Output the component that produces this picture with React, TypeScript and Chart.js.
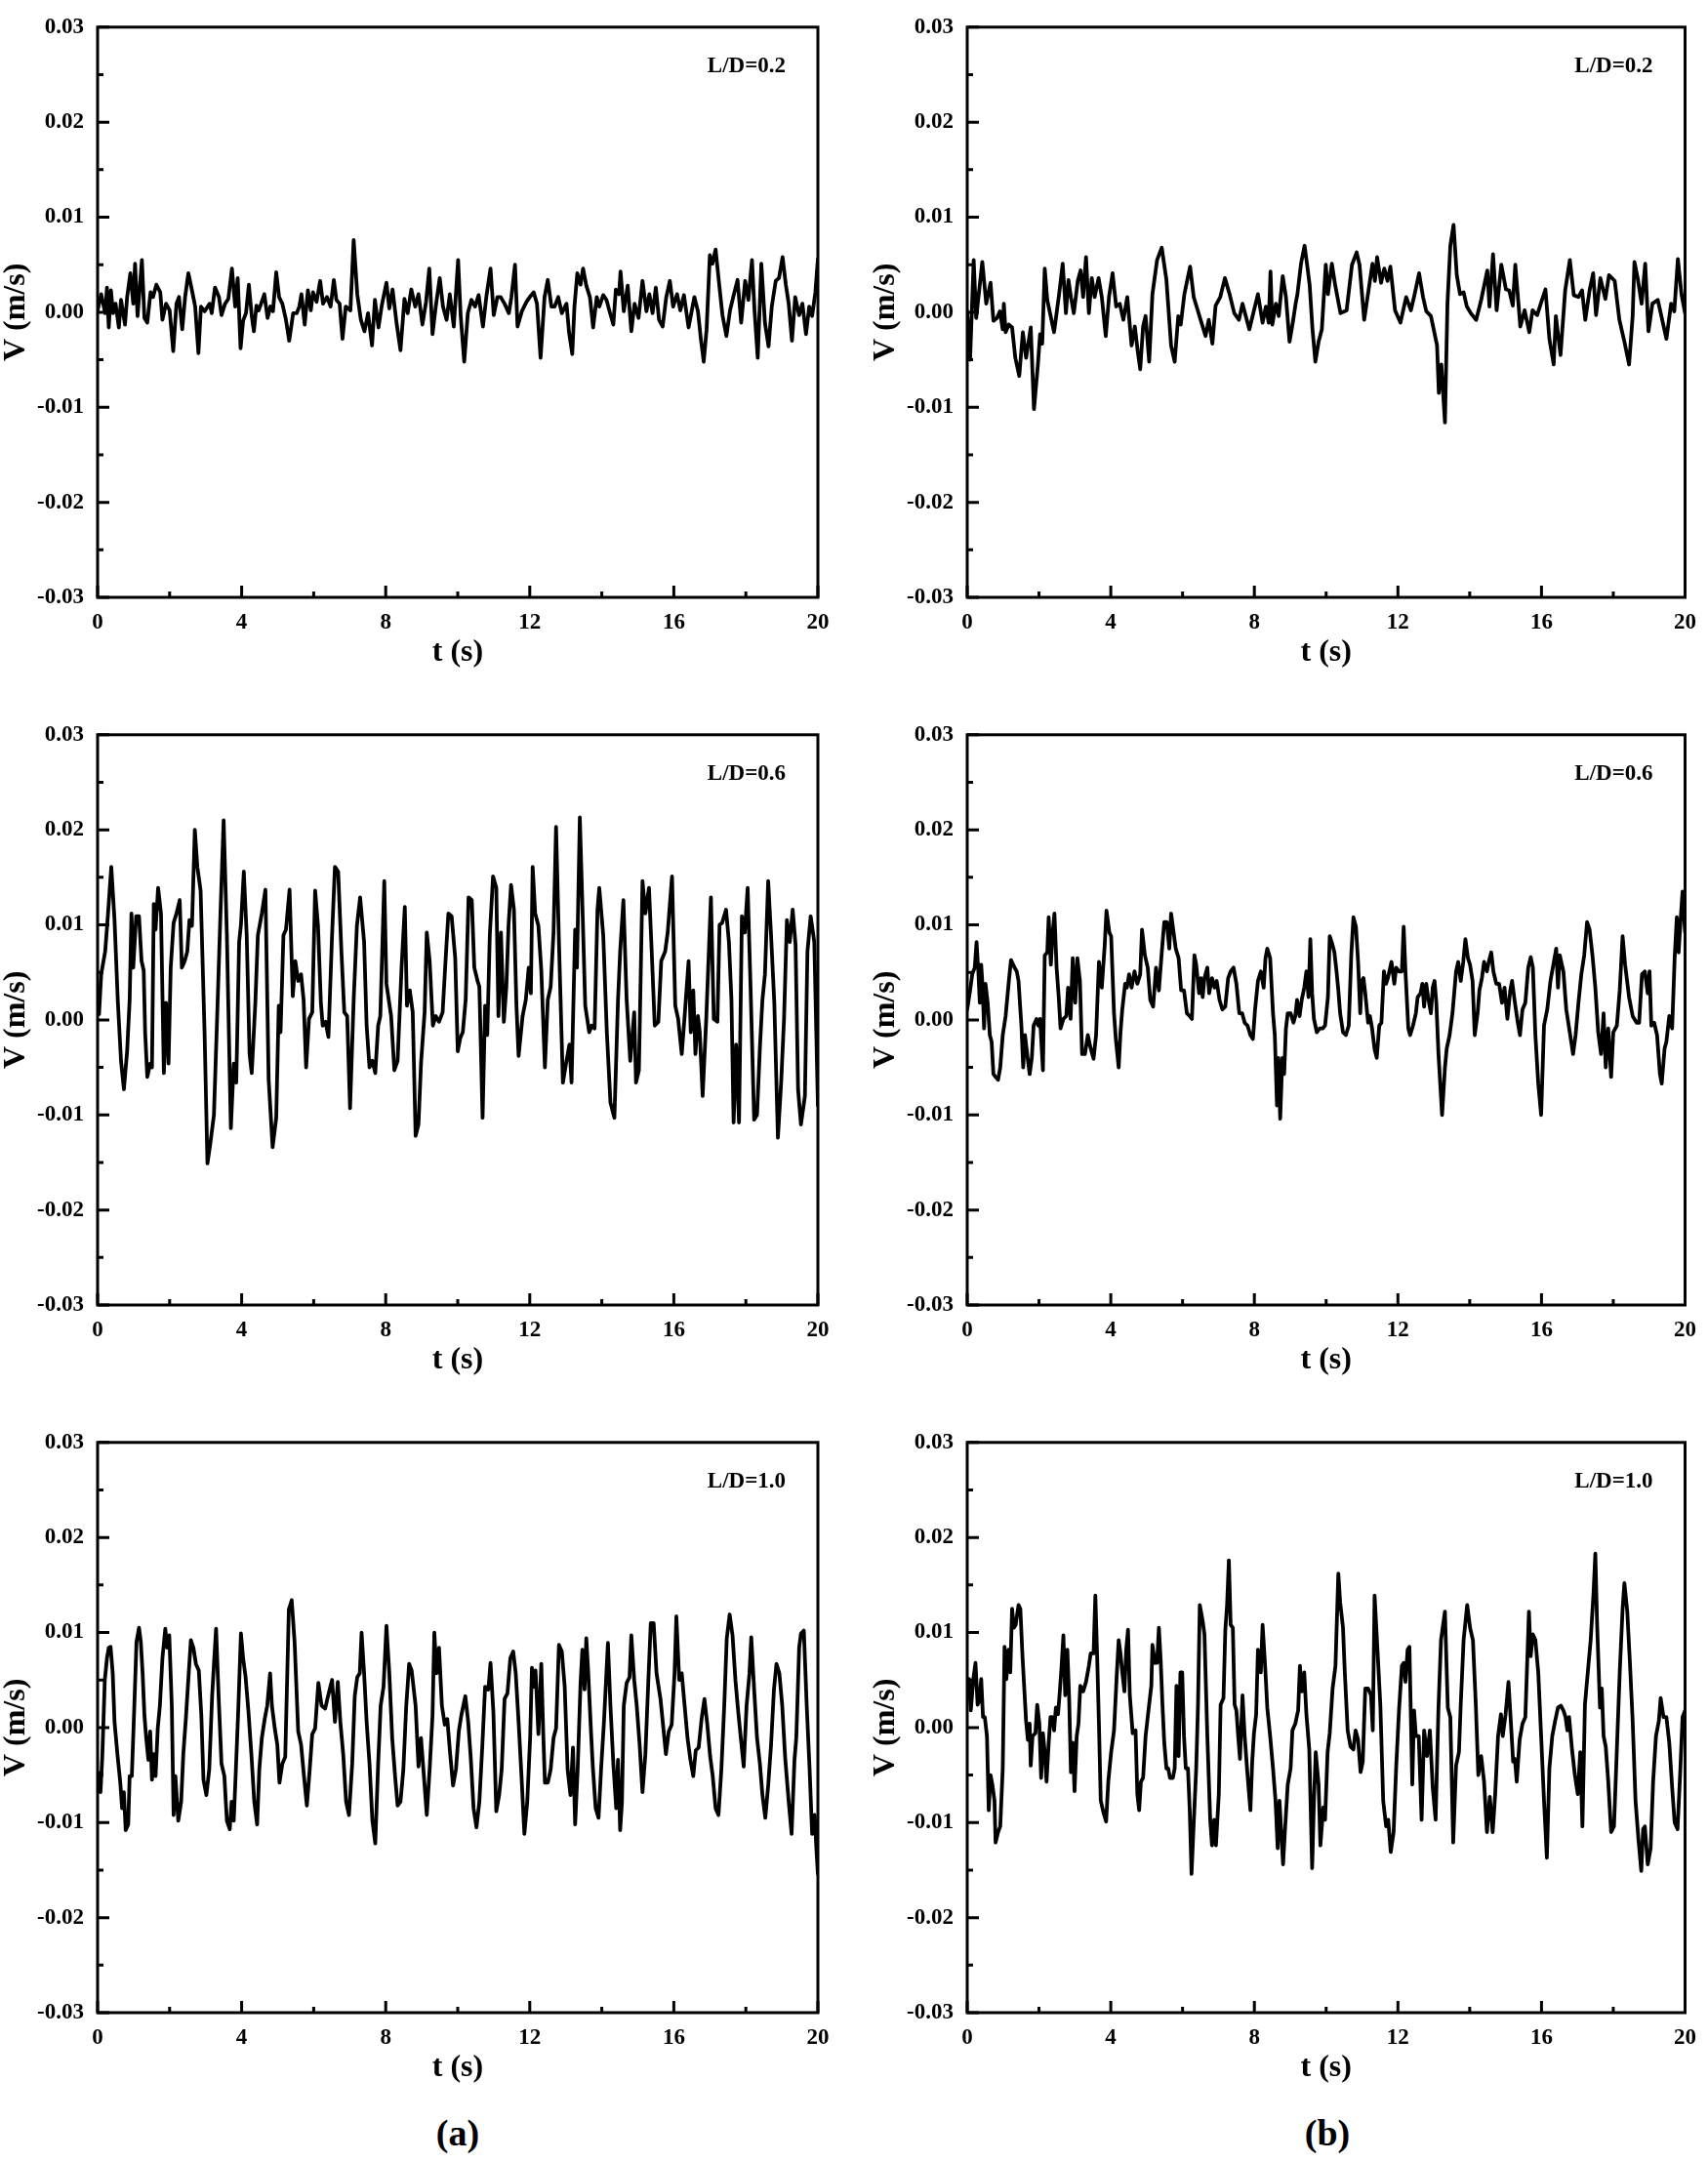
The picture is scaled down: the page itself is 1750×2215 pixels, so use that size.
import React, { useEffect, useRef } from "react";
import { Chart, registerables } from "chart.js";

Chart.register(...registerables);

const FONT = '"Liberation Serif", "Times New Roman", serif';

// axis ticks
const xMajor = [0, 4, 8, 12, 16, 20];
const xMinor = [2, 6, 10, 14, 18];
const yMajor = [-0.03, -0.02, -0.01, 0, 0.01, 0.02, 0.03];
const yMinor = [-0.025, -0.015, -0.005, 0.005, 0.015, 0.025];
const rowLabels = ["L/D=0.2", "L/D=0.6", "L/D=1.0"];
const columnLabels = ["(a)", "(b)"];
const xTitle = "t (s)";
const yTitle = "V (m/s)";

// ---- data: time t (s) and velocity V (mm/s, plotted as m/s) ----
// (a) L/D=0.2
const tA1 = [0.00,0.10,0.21,0.26,0.31,0.37,0.43,0.50,0.59,0.65,0.76,0.82,0.91,0.99,1.04,1.11,1.23,1.30,1.38,1.47,1.54,1.63,1.74,1.80,1.90,2.00,2.10,2.19,2.26,2.35,2.43,2.52,2.62,2.71,2.80,2.87,2.97,3.11,3.17,3.26,3.37,3.44,3.54,3.63,3.73,3.82,3.89,3.97,4.04,4.12,4.20,4.28,4.34,4.41,4.47,4.54,4.63,4.72,4.80,4.87,4.96,5.04,5.13,5.23,5.32,5.43,5.53,5.60,5.66,5.75,5.84,5.92,5.98,6.08,6.18,6.26,6.37,6.47,6.56,6.63,6.72,6.80,6.89,7.02,7.11,7.21,7.31,7.41,7.51,7.62,7.70,7.80,7.89,8.02,8.10,8.19,8.30,8.41,8.52,8.61,8.71,8.82,8.91,9.02,9.12,9.21,9.30,9.39,9.50,9.59,9.69,9.78,9.89,10.01,10.08,10.18,10.28,10.38,10.48,10.58,10.70,10.80,10.91,11.00,11.10,11.19,11.30,11.42,11.49,11.59,11.66,11.78,11.91,12.00,12.11,12.20,12.30,12.41,12.50,12.60,12.69,12.79,12.89,13.02,13.09,13.18,13.24,13.32,13.41,13.48,13.57,13.67,13.76,13.86,13.93,14.04,14.13,14.23,14.32,14.39,14.48,14.52,14.61,14.72,14.82,14.91,15.02,15.13,15.24,15.32,15.41,15.50,15.59,15.69,15.79,15.89,15.98,16.09,16.18,16.28,16.41,16.57,16.67,16.75,16.83,16.91,17.00,17.07,17.16,17.26,17.35,17.46,17.56,17.65,17.77,17.87,17.98,18.07,18.17,18.24,18.33,18.43,18.53,18.63,18.72,18.83,18.92,19.02,19.11,19.19,19.28,19.37,19.48,19.57,19.67,19.76,19.84,19.93,20.00];
const vA1 = [0.2,1.9,-0.1,2.6,-1.6,2.3,-0.1,0.9,-1.6,1.3,-1.3,1.6,4.1,0.9,5.1,-0.4,5.5,-0.6,-1.1,2.1,1.6,2.9,2.1,-0.8,0.9,0.2,-4.1,0.9,1.6,-1.8,1.6,4.1,2.3,0.6,-4.3,0.6,0.1,0.9,-0.1,2.6,1.6,-0.3,0.9,1.4,4.6,0.6,3.6,-3.8,-0.9,-0.1,2.9,-0.4,-2.0,0.7,0.2,0.9,1.9,-0.6,0.6,0.1,4.2,1.6,0.9,-0.8,-3.0,-0.1,-0.1,0.6,1.9,-1.3,2.3,0.2,2.1,1.1,3.3,0.9,1.6,0.6,3.4,1.3,0.9,-2.8,0.6,0.2,7.6,1.9,-0.8,-2.0,-0.1,-3.5,1.3,-1.6,0.7,3.1,0.4,2.4,-1.1,-4.0,1.4,-0.1,2.4,0.6,1.9,-1.3,1.1,4.6,-2.3,0.6,3.6,0.6,-0.8,1.9,-1.5,5.5,-0.3,-5.2,-0.1,1.3,0.6,1.8,-1.5,1.8,4.6,-0.3,1.6,1.6,0.9,-0.1,1.6,5.0,-1.5,0.1,1.1,1.6,2.1,0.9,-4.8,1.6,3.4,0.6,0.6,1.6,-0.1,0.9,-2.1,-4.4,0.6,4.1,2.9,4.6,2.8,1.6,-1.6,1.6,0.6,1.8,1.3,-0.1,-1.3,2.4,1.9,4.3,0.1,2.8,-2.0,0.9,-0.6,3.3,0.1,1.9,-0.1,2.6,-0.8,-1.5,1.6,3.3,0.6,1.9,0.2,1.8,-1.6,1.6,0.1,-2.8,-5.2,-1.8,6.0,5.1,6.6,2.9,-0.3,-2.5,0.2,1.6,3.4,-1.1,3.3,1.3,5.5,0.2,-4.8,5.1,-1.1,-3.6,0.6,3.3,3.6,5.8,2.9,0.9,-3.0,1.6,-0.3,0.9,-2.3,0.6,-0.4,2.1,5.6];

// (b) L/D=0.2
const tB1 = [0.00,0.08,0.18,0.25,0.42,0.53,0.65,0.73,0.83,0.91,0.99,1.02,1.07,1.16,1.25,1.34,1.45,1.55,1.64,1.77,1.86,1.97,2.03,2.09,2.16,2.23,2.29,2.42,2.50,2.56,2.66,2.75,2.82,2.89,2.97,3.08,3.16,3.23,3.31,3.39,3.47,3.55,3.66,3.75,3.86,3.95,4.05,4.15,4.25,4.35,4.46,4.58,4.67,4.75,4.82,4.90,4.97,5.07,5.16,5.29,5.42,5.55,5.68,5.78,5.88,5.95,6.05,6.21,6.31,6.47,6.64,6.73,6.83,6.92,7.05,7.18,7.31,7.44,7.57,7.67,7.86,8.10,8.23,8.32,8.40,8.45,8.50,8.60,8.68,8.79,8.88,8.98,9.07,9.15,9.20,9.30,9.40,9.47,9.54,9.62,9.70,9.79,9.88,9.99,10.05,10.16,10.25,10.40,10.57,10.72,10.85,10.93,11.06,11.29,11.36,11.42,11.53,11.62,11.71,11.79,11.92,12.07,12.23,12.36,12.46,12.59,12.70,12.79,12.92,13.09,13.14,13.21,13.31,13.38,13.46,13.55,13.64,13.73,13.83,13.92,14.03,14.18,14.32,14.49,14.55,14.65,14.75,14.88,15.01,15.10,15.20,15.27,15.41,15.53,15.66,15.75,15.88,15.98,16.11,16.22,16.34,16.40,16.53,16.66,16.79,16.90,17.03,17.13,17.22,17.34,17.44,17.52,17.64,17.78,17.88,18.04,18.17,18.31,18.44,18.54,18.59,18.68,18.79,18.89,18.98,19.09,19.24,19.48,19.61,19.70,19.80,19.90,20.00];
const vB1 = [0.1,-5.0,5.5,-0.6,5.3,0.9,3.1,-0.9,-0.6,0.1,-1.8,0.9,-2.1,-1.3,-1.6,-4.8,-6.7,-2.1,-4.8,-1.6,-10.2,-5.5,-2.3,-3.3,4.6,1.3,0.2,-2.1,0.2,1.9,5.1,-0.1,3.4,1.6,-0.1,3.3,4.4,1.6,5.8,-0.1,3.6,1.6,3.6,1.6,-2.5,1.6,4.1,0.6,0.9,-0.8,1.6,-3.5,-1.5,-4.1,-6.0,-1.5,-0.4,-5.2,1.9,5.5,6.8,3.4,-3.5,-5.2,-0.4,-1.3,1.9,4.8,1.6,-0.4,-2.5,-0.8,-3.3,0.7,1.6,3.6,1.9,-0.1,-0.8,0.9,-1.8,1.9,-1.1,0.6,-1.1,4.3,-1.3,0.9,-0.4,3.8,1.6,-3.1,-1.1,0.9,1.9,5.1,7.0,5.0,2.9,-1.8,-5.2,-3.1,-1.8,5.0,1.9,5.1,2.9,-0.1,0.2,5.0,6.3,5.0,-0.8,5.1,3.3,5.8,3.1,4.6,3.3,4.8,0.2,-1.1,1.6,0.2,1.8,4.1,1.6,0.1,-0.4,-3.5,-8.5,-5.5,-11.6,0.9,7.0,9.2,3.9,1.9,2.1,0.6,-0.1,-0.8,1.3,4.4,0.6,6.1,0.2,5.0,2.4,2.3,0.7,5.0,-1.5,0.2,-2.1,0.2,-0.3,0.9,2.4,-2.8,-5.5,-0.4,-4.5,2.3,5.5,1.8,1.6,2.3,-0.8,2.3,4.1,-0.3,3.6,1.4,3.9,3.3,-0.8,-3.1,-5.5,-0.4,5.3,3.6,0.9,5.1,-2.0,0.9,1.3,-2.8,0.9,0.1,5.6,1.9,-0.1];

// (a) L/D=0.6
const tA2 = [0.04,0.10,0.21,0.29,0.38,0.47,0.56,0.65,0.73,0.82,0.89,0.94,0.99,1.07,1.15,1.22,1.28,1.32,1.38,1.46,1.51,1.56,1.61,1.68,1.76,1.84,1.90,1.97,2.03,2.11,2.19,2.28,2.34,2.42,2.49,2.55,2.62,2.70,2.77,2.86,2.97,3.05,3.13,3.23,3.33,3.42,3.50,3.59,3.70,3.78,3.85,3.93,3.98,4.06,4.14,4.22,4.28,4.38,4.45,4.56,4.66,4.75,4.86,4.96,5.03,5.08,5.16,5.23,5.33,5.42,5.49,5.57,5.65,5.72,5.79,5.87,5.96,6.04,6.12,6.20,6.25,6.33,6.41,6.51,6.59,6.68,6.77,6.85,6.93,7.01,7.11,7.20,7.29,7.40,7.47,7.55,7.63,7.71,7.79,7.85,7.96,8.02,8.15,8.24,8.33,8.44,8.53,8.59,8.67,8.75,8.83,8.91,8.98,9.08,9.14,9.22,9.31,9.39,9.48,9.58,9.67,9.74,9.83,9.93,10.00,10.07,10.14,10.22,10.30,10.39,10.46,10.55,10.60,10.69,10.76,10.82,10.89,10.98,11.07,11.13,11.20,11.28,11.35,11.41,11.48,11.56,11.63,11.69,11.80,11.89,11.97,12.03,12.08,12.15,12.24,12.32,12.42,12.50,12.58,12.66,12.73,12.81,12.92,13.02,13.10,13.16,13.26,13.31,13.39,13.46,13.54,13.65,13.72,13.80,13.88,13.93,14.04,14.14,14.24,14.35,14.45,14.51,14.60,14.69,14.79,14.90,14.95,15.03,15.13,15.21,15.31,15.39,15.47,15.57,15.65,15.76,15.83,15.95,16.04,16.12,16.22,16.30,16.41,16.47,16.54,16.60,16.67,16.72,16.80,16.90,17.03,17.11,17.21,17.27,17.34,17.45,17.53,17.60,17.66,17.73,17.81,17.89,17.97,18.05,18.13,18.23,18.31,18.39,18.46,18.53,18.62,18.70,18.79,18.89,18.98,19.06,19.14,19.22,19.30,19.38,19.45,19.53,19.64,19.71,19.80,19.90,20.00];
const vA2 = [0.6,4.8,7.2,11.2,16.1,10.5,2.1,-4.3,-7.3,-3.3,2.1,11.2,5.5,10.9,10.9,6.2,5.2,-1.3,-6.0,-4.6,-5.0,12.2,9.5,13.9,11.2,-5.6,1.8,-4.6,5.5,10.2,11.2,12.6,5.5,6.2,7.2,10.5,9.9,20.0,16.1,13.6,-1.3,-15.1,-13.0,-10.0,1.5,12.2,21.0,8.9,-11.4,-4.6,-6.6,8.2,10.0,15.6,8.9,-3.6,-5.6,1.8,8.9,11.2,13.7,-6.3,-13.4,-10.3,1.5,-1.3,8.9,9.5,13.7,2.5,6.2,4.1,4.8,2.1,-5.0,0.1,0.8,13.6,9.9,1.8,-0.6,-0.2,-1.8,8.9,16.1,15.6,7.2,0.8,0.4,-9.3,2.1,9.9,12.9,8.2,-0.6,-5.0,-4.3,-5.6,-0.6,0.4,14.6,3.8,0.4,-5.3,-4.3,5.5,11.9,1.5,3.1,0.8,-12.2,-11.0,-4.6,0.8,9.2,6.2,-0.6,0.4,-0.2,0.8,6.8,11.2,10.9,6.5,-3.3,-1.9,-1.3,2.1,12.9,12.6,5.5,4.1,3.5,-10.3,1.5,-1.6,8.9,15.1,13.9,0.4,9.2,-0.2,3.5,9.9,14.2,11.6,1.5,-3.8,0.4,2.1,5.5,2.8,16.1,11.2,9.9,5.2,-5.0,2.1,3.5,9.2,20.3,8.2,-6.6,-4.3,-2.6,-6.6,9.5,5.5,21.3,12.2,1.5,-1.3,-0.6,-0.9,11.6,13.9,8.9,-1.3,-8.7,-10.3,2.1,7.2,12.6,2.1,-4.3,0.8,-6.6,-5.3,14.6,11.2,13.9,6.8,-0.6,-0.2,6.2,7.2,9.2,15.1,1.5,0.1,-3.6,0.4,6.2,-1.3,3.1,-3.6,0.4,-1.3,-8.0,0.1,12.9,0.1,-0.2,10.0,10.2,11.6,8.2,2.1,-10.8,-2.6,-10.8,10.9,9.2,13.9,3.5,-10.5,-10.0,-2.9,2.1,4.8,14.6,8.9,1.8,-12.4,-6.6,0.1,10.5,8.2,11.6,7.9,-7.3,-11.0,-8.0,7.2,10.9,8.2,-9.0];

// (b) L/D=0.6
const tB2 = [0.00,0.08,0.14,0.21,0.26,0.31,0.35,0.39,0.43,0.47,0.51,0.57,0.63,0.68,0.73,0.79,0.86,0.92,0.99,1.07,1.16,1.22,1.32,1.38,1.43,1.48,1.51,1.56,1.61,1.67,1.74,1.80,1.85,1.93,1.98,2.03,2.11,2.16,2.23,2.27,2.33,2.38,2.43,2.49,2.55,2.60,2.68,2.76,2.81,2.88,2.94,3.01,3.07,3.14,3.20,3.28,3.36,3.44,3.52,3.59,3.67,3.75,3.83,3.88,3.96,4.01,4.09,4.14,4.22,4.27,4.32,4.40,4.45,4.51,4.58,4.66,4.74,4.82,4.87,4.95,5.03,5.10,5.18,5.26,5.34,5.42,5.49,5.56,5.63,5.68,5.74,5.81,5.89,5.96,6.04,6.12,6.20,6.26,6.33,6.38,6.46,6.51,6.56,6.61,6.69,6.74,6.82,6.89,6.95,7.03,7.11,7.19,7.27,7.34,7.42,7.50,7.58,7.66,7.73,7.81,7.89,7.96,8.02,8.10,8.18,8.26,8.31,8.36,8.44,8.52,8.57,8.63,8.67,8.72,8.78,8.83,8.88,8.93,9.01,9.09,9.14,9.19,9.26,9.32,9.39,9.45,9.51,9.56,9.61,9.66,9.74,9.82,9.90,9.97,10.05,10.10,10.17,10.23,10.29,10.34,10.39,10.47,10.55,10.63,10.70,10.76,10.83,10.89,10.95,10.99,11.04,11.09,11.17,11.22,11.28,11.35,11.41,11.48,11.54,11.61,11.67,11.72,11.82,11.90,11.95,12.03,12.11,12.16,12.21,12.29,12.34,12.42,12.50,12.55,12.63,12.68,12.73,12.79,12.84,12.92,12.97,13.02,13.07,13.13,13.23,13.31,13.36,13.44,13.52,13.62,13.68,13.75,13.82,13.88,13.95,14.01,14.08,14.14,14.22,14.27,14.34,14.40,14.48,14.53,14.60,14.66,14.74,14.82,14.90,14.97,15.05,15.13,15.18,15.26,15.34,15.40,15.47,15.55,15.63,15.70,15.76,15.83,15.91,15.99,16.07,16.16,16.25,16.33,16.41,16.46,16.51,16.61,16.69,16.80,16.88,16.95,17.03,17.11,17.19,17.27,17.34,17.42,17.50,17.58,17.66,17.73,17.79,17.86,17.94,18.00,18.10,18.18,18.26,18.33,18.44,18.54,18.65,18.72,18.80,18.88,18.96,19.01,19.06,19.14,19.22,19.30,19.35,19.43,19.48,19.56,19.64,19.71,19.77,19.82,19.87,19.93,20.00];
const vB2 = [1.1,3.1,4.8,5.5,8.2,5.1,1.8,5.8,3.4,-0.9,3.8,1.8,-1.6,-2.3,-5.7,-6.0,-6.3,-5.0,-1.6,0.4,4.1,6.3,5.5,5.1,4.1,1.1,-0.6,-5.0,-1.6,-3.6,-5.7,-4.0,-0.6,0.1,-0.6,0.1,-5.3,6.8,7.1,10.8,5.8,9.2,11.2,5.5,2.4,-0.9,0.1,0.4,3.4,0.1,6.5,1.8,6.5,4.1,-3.6,-3.6,-1.6,-3.0,-4.1,-1.6,6.1,3.4,7.8,11.5,9.2,8.8,0.7,-2.0,-5.0,-1.3,1.1,3.8,3.4,4.8,3.4,5.1,3.8,4.8,9.5,6.8,5.5,2.1,1.4,5.5,3.1,7.1,10.3,10.3,7.5,11.2,9.5,7.5,6.5,3.1,3.1,0.7,0.4,0.1,6.8,5.8,2.8,4.4,2.4,4.4,5.5,2.8,4.4,3.4,4.1,2.1,1.1,1.4,4.4,5.1,5.5,3.8,0.7,0.7,-0.3,-0.6,-1.6,-2.0,1.1,4.1,5.1,3.4,6.5,7.5,6.5,0.7,-1.6,-9.0,-4.0,-10.4,-4.0,-5.7,-0.9,0.7,0.7,-0.3,0.4,2.1,0.4,2.1,3.4,5.1,2.4,8.5,2.8,0.1,-1.3,-0.9,-0.9,-0.6,2.4,8.8,8.0,7.1,5.1,3.1,0.7,-1.3,-1.6,-0.6,6.8,10.8,9.8,6.1,0.7,4.1,4.4,2.8,-0.3,0.4,-0.9,-3.1,-4.0,-0.6,-0.3,5.1,3.8,4.4,6.1,3.8,5.5,5.1,5.1,9.8,5.1,-0.9,-1.6,-0.6,0.7,2.4,2.8,3.8,1.4,3.8,2.4,0.7,3.4,4.1,1.8,-3.6,-10.0,-5.0,-3.0,-1.6,0.7,5.1,6.1,4.1,6.1,8.5,6.5,5.8,4.1,-1.6,0.7,3.1,4.4,6.1,5.1,6.1,7.1,5.1,3.8,3.8,1.8,3.4,0.1,3.1,4.1,1.8,-0.3,-1.6,1.1,1.8,5.5,6.6,5.5,-1.6,-6.7,-10.0,-0.6,1.1,4.1,5.8,7.5,3.4,6.8,5.1,1.1,-1.6,-3.6,-1.6,1.8,4.8,6.8,10.3,9.5,6.8,3.4,-1.3,-3.6,0.7,-5.0,-0.9,-6.0,-1.3,-0.6,3.1,8.8,5.8,2.4,0.4,-0.3,-0.3,4.8,5.1,2.8,5.1,-0.6,-0.3,-1.6,-5.7,-6.7,-3.0,-2.3,0.4,-0.9,6.5,10.8,7.1,10.2,13.5,9.2];

// (a) L/D=1.0
const tA3 = [0.04,0.08,0.13,0.20,0.26,0.31,0.36,0.42,0.47,0.55,0.63,0.68,0.73,0.78,0.85,0.89,0.95,1.02,1.08,1.15,1.20,1.25,1.30,1.35,1.41,1.46,1.51,1.56,1.61,1.67,1.73,1.80,1.88,1.93,1.99,2.06,2.11,2.16,2.24,2.32,2.38,2.45,2.53,2.59,2.66,2.73,2.81,2.88,2.94,3.02,3.10,3.18,3.24,3.29,3.36,3.44,3.52,3.59,3.67,3.72,3.78,3.84,3.91,3.98,4.04,4.11,4.19,4.27,4.35,4.43,4.49,4.56,4.64,4.71,4.79,4.84,4.92,4.99,5.05,5.13,5.21,5.31,5.39,5.47,5.57,5.65,5.73,5.81,5.89,5.96,6.04,6.13,6.22,6.32,6.38,6.45,6.51,6.59,6.67,6.74,6.82,6.90,6.98,7.07,7.14,7.21,7.28,7.33,7.40,7.47,7.55,7.63,7.71,7.79,7.86,7.94,8.02,8.10,8.18,8.26,8.33,8.41,8.49,8.57,8.65,8.72,8.83,8.91,8.98,9.06,9.14,9.22,9.30,9.35,9.41,9.48,9.56,9.64,9.71,9.79,9.87,9.95,10.03,10.10,10.21,10.29,10.36,10.44,10.52,10.60,10.68,10.76,10.85,10.91,10.99,11.07,11.15,11.22,11.30,11.38,11.46,11.54,11.61,11.69,11.77,11.85,11.93,12.01,12.06,12.11,12.16,12.24,12.32,12.37,12.42,12.50,12.58,12.66,12.73,12.81,12.89,12.97,13.05,13.13,13.20,13.26,13.33,13.41,13.46,13.52,13.57,13.62,13.70,13.75,13.83,13.91,13.98,14.06,14.17,14.24,14.32,14.40,14.45,14.51,14.56,14.61,14.69,14.77,14.82,14.90,14.97,15.05,15.13,15.21,15.29,15.36,15.44,15.52,15.63,15.70,15.78,15.86,15.94,16.02,16.07,16.15,16.22,16.30,16.38,16.46,16.54,16.61,16.69,16.77,16.85,16.93,17.01,17.08,17.16,17.24,17.32,17.40,17.47,17.55,17.63,17.71,17.79,17.86,17.94,18.02,18.10,18.15,18.23,18.31,18.39,18.46,18.54,18.62,18.70,18.78,18.85,18.93,19.01,19.09,19.19,19.27,19.35,19.40,19.48,19.53,19.61,19.69,19.77,19.84,19.91,19.96,20.00];
const vA3 = [-4.8,-6.8,-3.1,5.0,7.3,8.4,8.5,5.7,0.6,-2.8,-5.8,-8.5,-6.8,-10.8,-10.2,-5.1,-5.1,2.3,9.0,10.5,9.0,5.7,1.3,-1.1,-3.4,-0.4,-5.5,-2.8,-5.1,-0.1,2.3,7.3,10.4,8.4,9.7,2.3,-9.2,-5.1,-9.8,-7.8,-2.8,0.9,5.7,9.2,8.4,6.7,6.0,1.3,-5.5,-7.1,-4.4,3.3,7.3,10.4,3.3,-3.8,-5.1,-9.8,-10.7,-7.8,-9.8,-4.4,2.3,9.9,7.3,5.3,1.6,-2.8,-7.8,-10.2,-4.4,-1.1,0.9,2.3,5.7,2.3,-0.1,-1.8,-5.8,-3.8,-3.1,12.4,13.4,9.0,-0.4,-1.8,-5.1,-8.2,-4.4,-0.7,-0.1,4.7,2.3,2.0,3.0,4.1,5.0,0.6,4.8,0.6,-2.8,-7.8,-9.2,-3.8,3.3,5.3,5.7,10.0,5.7,0.6,-3.8,-9.8,-12.2,-3.8,2.3,4.3,10.7,5.7,-1.1,-5.1,-8.2,-7.8,-4.4,2.3,6.7,6.0,2.3,-4.1,-1.1,-5.1,-9.2,-4.4,1.3,10.0,5.7,8.4,2.3,0.3,0.9,-2.8,-6.1,-4.4,-0.4,1.3,3.3,0.6,-3.1,-8.5,-10.5,-7.8,-2.1,4.3,4.0,6.8,1.6,-8.8,-7.1,-4.4,3.0,3.6,7.3,8.0,5.7,0.6,-5.1,-11.2,-7.8,-1.1,6.3,4.3,6.0,-0.7,6.7,-0.1,-5.8,-5.8,-4.4,-1.1,-0.1,8.7,8.0,4.3,-4.4,-7.1,-2.1,-10.2,-4.4,4.7,8.2,4.0,9.4,6.0,-0.4,-4.1,-8.5,-9.5,-4.4,0.6,8.9,2.3,-3.8,-8.5,-3.4,-10.8,-7.8,2.3,4.7,5.3,9.7,5.0,2.3,-1.8,-6.8,-2.8,4.7,11.0,11.0,5.7,3.0,0.3,-2.8,-0.4,0.3,5.7,11.7,5.0,5.7,2.3,-1.1,-3.4,-5.1,-2.4,-2.1,0.9,3.0,0.3,-3.1,-5.1,-8.5,-9.2,-4.4,2.3,9.4,11.9,9.7,5.0,1.6,-1.1,-4.1,2.3,5.7,9.5,4.0,-1.1,-3.8,-7.1,-9.5,-6.1,-1.8,4.0,6.7,5.7,2.3,-3.1,-7.8,-11.2,-3.4,-1.1,8.4,9.9,10.2,2.3,-4.4,-11.2,-9.2,-12.9,-15.4];

// (b) L/D=1.0
const tB3 = [0.00,0.05,0.10,0.17,0.23,0.29,0.34,0.39,0.44,0.49,0.55,0.60,0.65,0.70,0.76,0.79,0.86,0.92,0.99,1.04,1.09,1.15,1.20,1.25,1.30,1.35,1.43,1.48,1.54,1.59,1.64,1.69,1.74,1.77,1.82,1.90,1.95,2.01,2.06,2.11,2.16,2.21,2.27,2.32,2.37,2.42,2.47,2.53,2.58,2.63,2.68,2.73,2.79,2.84,2.89,2.94,2.99,3.05,3.10,3.15,3.23,3.31,3.39,3.44,3.52,3.57,3.62,3.67,3.72,3.80,3.87,3.93,4.01,4.09,4.17,4.22,4.27,4.32,4.38,4.43,4.48,4.53,4.61,4.69,4.74,4.79,4.84,4.90,4.97,5.05,5.13,5.16,5.23,5.29,5.34,5.39,5.44,5.49,5.55,5.60,5.65,5.73,5.78,5.83,5.89,5.94,5.99,6.04,6.09,6.15,6.20,6.25,6.30,6.38,6.43,6.48,6.56,6.61,6.69,6.77,6.82,6.88,6.93,7.01,7.06,7.14,7.19,7.24,7.29,7.34,7.40,7.45,7.50,7.55,7.60,7.67,7.73,7.81,7.89,7.94,7.99,8.05,8.10,8.18,8.23,8.31,8.36,8.44,8.52,8.59,8.65,8.70,8.75,8.80,8.85,8.93,9.01,9.06,9.14,9.22,9.27,9.32,9.39,9.45,9.53,9.61,9.66,9.71,9.79,9.84,9.92,9.97,10.04,10.10,10.18,10.26,10.34,10.39,10.47,10.52,10.60,10.68,10.76,10.82,10.89,10.96,11.02,11.09,11.17,11.25,11.30,11.35,11.43,11.51,11.59,11.67,11.73,11.80,11.88,11.95,12.03,12.11,12.16,12.21,12.27,12.32,12.40,12.45,12.50,12.58,12.66,12.73,12.81,12.89,12.97,13.05,13.13,13.20,13.31,13.39,13.46,13.54,13.62,13.70,13.75,13.83,13.93,14.01,14.09,14.17,14.24,14.32,14.40,14.48,14.56,14.64,14.71,14.79,14.87,14.92,15.00,15.08,15.16,15.21,15.26,15.31,15.39,15.47,15.55,15.65,15.70,15.76,15.83,15.91,15.99,16.07,16.15,16.22,16.30,16.38,16.46,16.54,16.61,16.67,16.72,16.77,16.85,16.93,17.01,17.08,17.14,17.21,17.29,17.37,17.45,17.50,17.55,17.63,17.68,17.73,17.79,17.86,17.94,18.02,18.10,18.18,18.26,18.31,18.39,18.46,18.54,18.62,18.70,18.78,18.83,18.88,18.96,19.04,19.11,19.19,19.27,19.32,19.40,19.48,19.56,19.64,19.71,19.79,19.87,19.93,20.00];
const vB3 = [3.1,5.1,1.8,5.1,6.8,2.4,2.8,5.1,1.1,1.1,-0.9,-8.7,-5.0,-6.0,-7.7,-12.1,-11.0,-10.4,-4.3,8.5,5.1,8.2,5.8,12.5,10.5,10.8,12.9,12.5,7.5,4.1,0.7,-1.3,0.4,-4.0,-0.9,-0.6,2.4,0.4,-5.3,-0.6,-2.6,-5.7,-1.6,1.1,1.1,-0.3,2.1,1.4,3.8,6.5,9.7,3.4,8.2,3.1,-4.7,-1.6,-6.7,-0.9,0.4,4.4,3.8,4.8,6.5,7.8,7.8,13.9,7.5,0.4,-7.7,-9.0,-9.9,-5.7,-2.6,-0.3,5.8,9.2,7.8,5.8,3.8,8.2,10.3,3.4,-0.6,-0.3,-7.0,-8.7,-5.7,-5.3,-0.9,1.8,4.4,8.7,6.8,6.8,10.5,7.1,2.4,-1.6,-4.3,-4.3,-5.3,-5.3,-4.3,4.4,-3.0,5.8,5.8,-0.9,-4.3,-4.3,-8.7,-15.4,-11.0,-4.3,2.4,12.9,11.2,9.8,-0.9,-9.7,-12.4,-9.7,-12.4,-7.0,2.4,3.1,10.2,12.9,17.6,10.8,10.5,2.4,1.8,-0.9,-3.3,3.4,-0.9,-5.0,-8.7,-3.6,-0.6,1.4,8.2,5.8,10.8,5.8,2.1,-0.9,-4.3,-7.7,-12.7,-7.7,-11.0,-14.4,-11.0,-6.0,-4.3,-0.3,0.4,1.8,6.5,3.8,5.8,1.4,-2.3,-14.8,-7.7,-2.6,-6.0,-12.4,-8.4,-9.7,-2.6,-0.6,4.1,6.5,16.2,13.2,10.5,5.8,-0.3,-2.0,-2.3,-0.3,-1.3,-4.7,-3.6,4.1,4.1,3.4,-0.3,13.9,8.2,2.4,-7.7,-10.4,-9.7,-13.1,-11.0,-4.3,1.8,6.5,6.8,4.8,8.2,8.5,-6.0,1.8,-0.9,-0.9,-9.7,-0.3,-3.0,-0.3,-6.3,-9.7,2.1,9.2,12.2,2.1,1.1,-12.1,-4.0,-2.6,2.4,9.2,12.9,10.5,9.2,2.4,-5.0,-3.0,-5.7,-11.0,-7.3,-11.0,-7.0,-0.9,1.4,-0.9,1.4,4.8,-0.3,-3.6,-3.3,-5.7,-1.3,0.4,1.1,12.2,7.5,9.8,9.2,5.8,-0.9,-7.7,-13.7,-4.3,-0.9,0.7,2.1,2.3,1.8,1.1,-0.3,1.1,-2.3,-5.0,-7.0,-2.6,-10.4,2.4,5.8,9.2,14.2,18.3,10.8,2.1,4.1,-0.9,-2.0,-5.7,-11.0,-10.4,-2.3,5.8,12.5,15.2,12.2,7.1,0.7,-7.7,-11.7,-15.1,-10.7,-10.4,-14.4,-12.7,-5.7,-0.9,0.7,3.1,1.1,1.1,-1.6,-6.3,-10.0,-10.7,-4.3,1.1,1.8];

// ---- layout ----
const CANVAS_H = 700;
const ROW_STEP = 725;
const columns = [
  { left: 0, width: 870, padRight: 32 },
  { left: 891, width: 859, padRight: 20 },
];
const series = [
  [[tA1, vA1], [tB1, vB1]],
  [[tA2, vA2], [tB2, vB2]],
  [[tA3, vA3], [tB3, vB3]],
];

function toPoints(t: number[], v: number[]) {
  const n = Math.min(t.length, v.length);
  const pts: { x: number; y: number }[] = [];
  for (let i = 0; i < n; i++) pts.push({ x: t[i], y: v[i] / 1000 });
  return pts;
}

function makeFramePlugin(label: string) {
  return {
    id: "frameTicks",
    afterDraw(chart: any) {
      const { ctx, chartArea: a, scales } = chart;
      const xs = scales.x;
      const ys = scales.y;
      ctx.save();
      ctx.strokeStyle = "#000";
      ctx.lineWidth = 3;
      ctx.lineCap = "butt";
      ctx.beginPath();
      for (const v of xMajor) {
        const p = xs.getPixelForValue(v);
        ctx.moveTo(p, a.bottom);
        ctx.lineTo(p, a.bottom - 12);
      }
      for (const v of xMinor) {
        const p = xs.getPixelForValue(v);
        ctx.moveTo(p, a.bottom);
        ctx.lineTo(p, a.bottom - 6);
      }
      for (const v of yMajor) {
        const p = ys.getPixelForValue(v);
        ctx.moveTo(a.left, p);
        ctx.lineTo(a.left + 12, p);
      }
      for (const v of yMinor) {
        const p = ys.getPixelForValue(v);
        ctx.moveTo(a.left, p);
        ctx.lineTo(a.left + 6, p);
      }
      ctx.stroke();
      ctx.strokeRect(a.left, a.top, a.right - a.left, a.bottom - a.top);
      ctx.fillStyle = "#000";
      ctx.font = `bold 23px ${FONT}`;
      ctx.textAlign = "right";
      ctx.textBaseline = "alphabetic";
      ctx.fillText(label, a.right - 33, a.top + 46);
      ctx.restore();
    },
  };
}

type PanelProps = {
  left: number;
  top: number;
  width: number;
  padRight: number;
  t: number[];
  v: number[];
  label: string;
};

function Panel({ left, top, width, padRight, t, v, label }: PanelProps) {
  const ref = useRef<HTMLCanvasElement | null>(null);
  useEffect(() => {
    if (!ref.current) return;
    const tickFont = { family: FONT, size: 23, weight: "bold" as const };
    const titleFont = { family: FONT, size: 32, weight: "bold" as const };
    const chart = new Chart(ref.current, {
      type: "line",
      data: {
        datasets: [
          {
            data: toPoints(t, v),
            borderColor: "#000",
            borderWidth: 3.8,
            pointRadius: 0,
            tension: 0,
            fill: false,
            borderJoinStyle: "round",
            borderCapStyle: "round",
          },
        ],
      },
      options: {
        animation: false,
        responsive: false,
        devicePixelRatio: 1,
        events: [],
        layout: { padding: { left: 0, right: padRight, top: 19, bottom: 12 } },
        plugins: { legend: { display: false }, tooltip: { enabled: false }, title: { display: false } },
        scales: {
          x: {
            type: "linear",
            min: 0,
            max: 20,
            afterBuildTicks: (s: any) => {
              s.ticks = xMajor.map((value) => ({ value }));
            },
            afterFit: (s: any) => {
              s.height = 76;
            },
            ticks: {
              font: tickFont,
              color: "#000",
              padding: 12,
              maxRotation: 0,
              autoSkip: false,
              callback: (val: any) => String(val),
            },
            grid: { display: false, drawTicks: false },
            border: { display: false },
            title: { display: true, text: xTitle, font: titleFont, color: "#000", padding: 0 },
          },
          y: {
            type: "linear",
            min: -0.03,
            max: 0.03,
            afterBuildTicks: (s: any) => {
              s.ticks = yMajor.map((value) => ({ value }));
            },
            afterFit: (s: any) => {
              s.width = 100;
            },
            ticks: {
              font: tickFont,
              color: "#000",
              padding: 14,
              autoSkip: false,
              callback: (val: any) => Number(val).toFixed(2),
            },
            grid: { display: false, drawTicks: false },
            border: { display: false },
            title: { display: true, text: yTitle, font: titleFont, color: "#000", padding: { top: -2, bottom: 0 } },
          },
        },
      } as any,
      plugins: [makeFramePlugin(label)],
    });
    return () => chart.destroy();
  }, []);
  return (
    <canvas
      ref={ref}
      width={width}
      height={CANVAS_H}
      style={{ position: "absolute", left, top, width, height: CANVAS_H, display: "block" }}
    />
  );
}

export default function App() {
  const panels: React.ReactNode[] = [];
  series.forEach((row, r) => {
    row.forEach(([t, v], c) => {
      const col = columns[c];
      panels.push(
        <Panel
          key={`${r}-${c}`}
          left={col.left}
          top={r * ROW_STEP}
          width={col.width}
          padRight={col.padRight}
          t={t}
          v={v}
          label={rowLabels[r]}
        />
      );
    });
  });
  const labelCenters = [469, 1360];
  return (
    <div
      style={{
        position: "absolute",
        left: 0,
        top: 0,
        width: 1750,
        height: 2215,
        background: "#fff",
        overflow: "hidden",
      }}
    >
      {panels}
      {columnLabels.map((txt, i) => (
        <div
          key={txt}
          style={{
            position: "absolute",
            left: labelCenters[i] - 100,
            top: 2163,
            width: 200,
            textAlign: "center",
            fontFamily: FONT,
            fontWeight: "bold",
            fontSize: 38,
            lineHeight: "44px",
            color: "#000",
          }}
        >
          {txt}
        </div>
      ))}
    </div>
  );
}
